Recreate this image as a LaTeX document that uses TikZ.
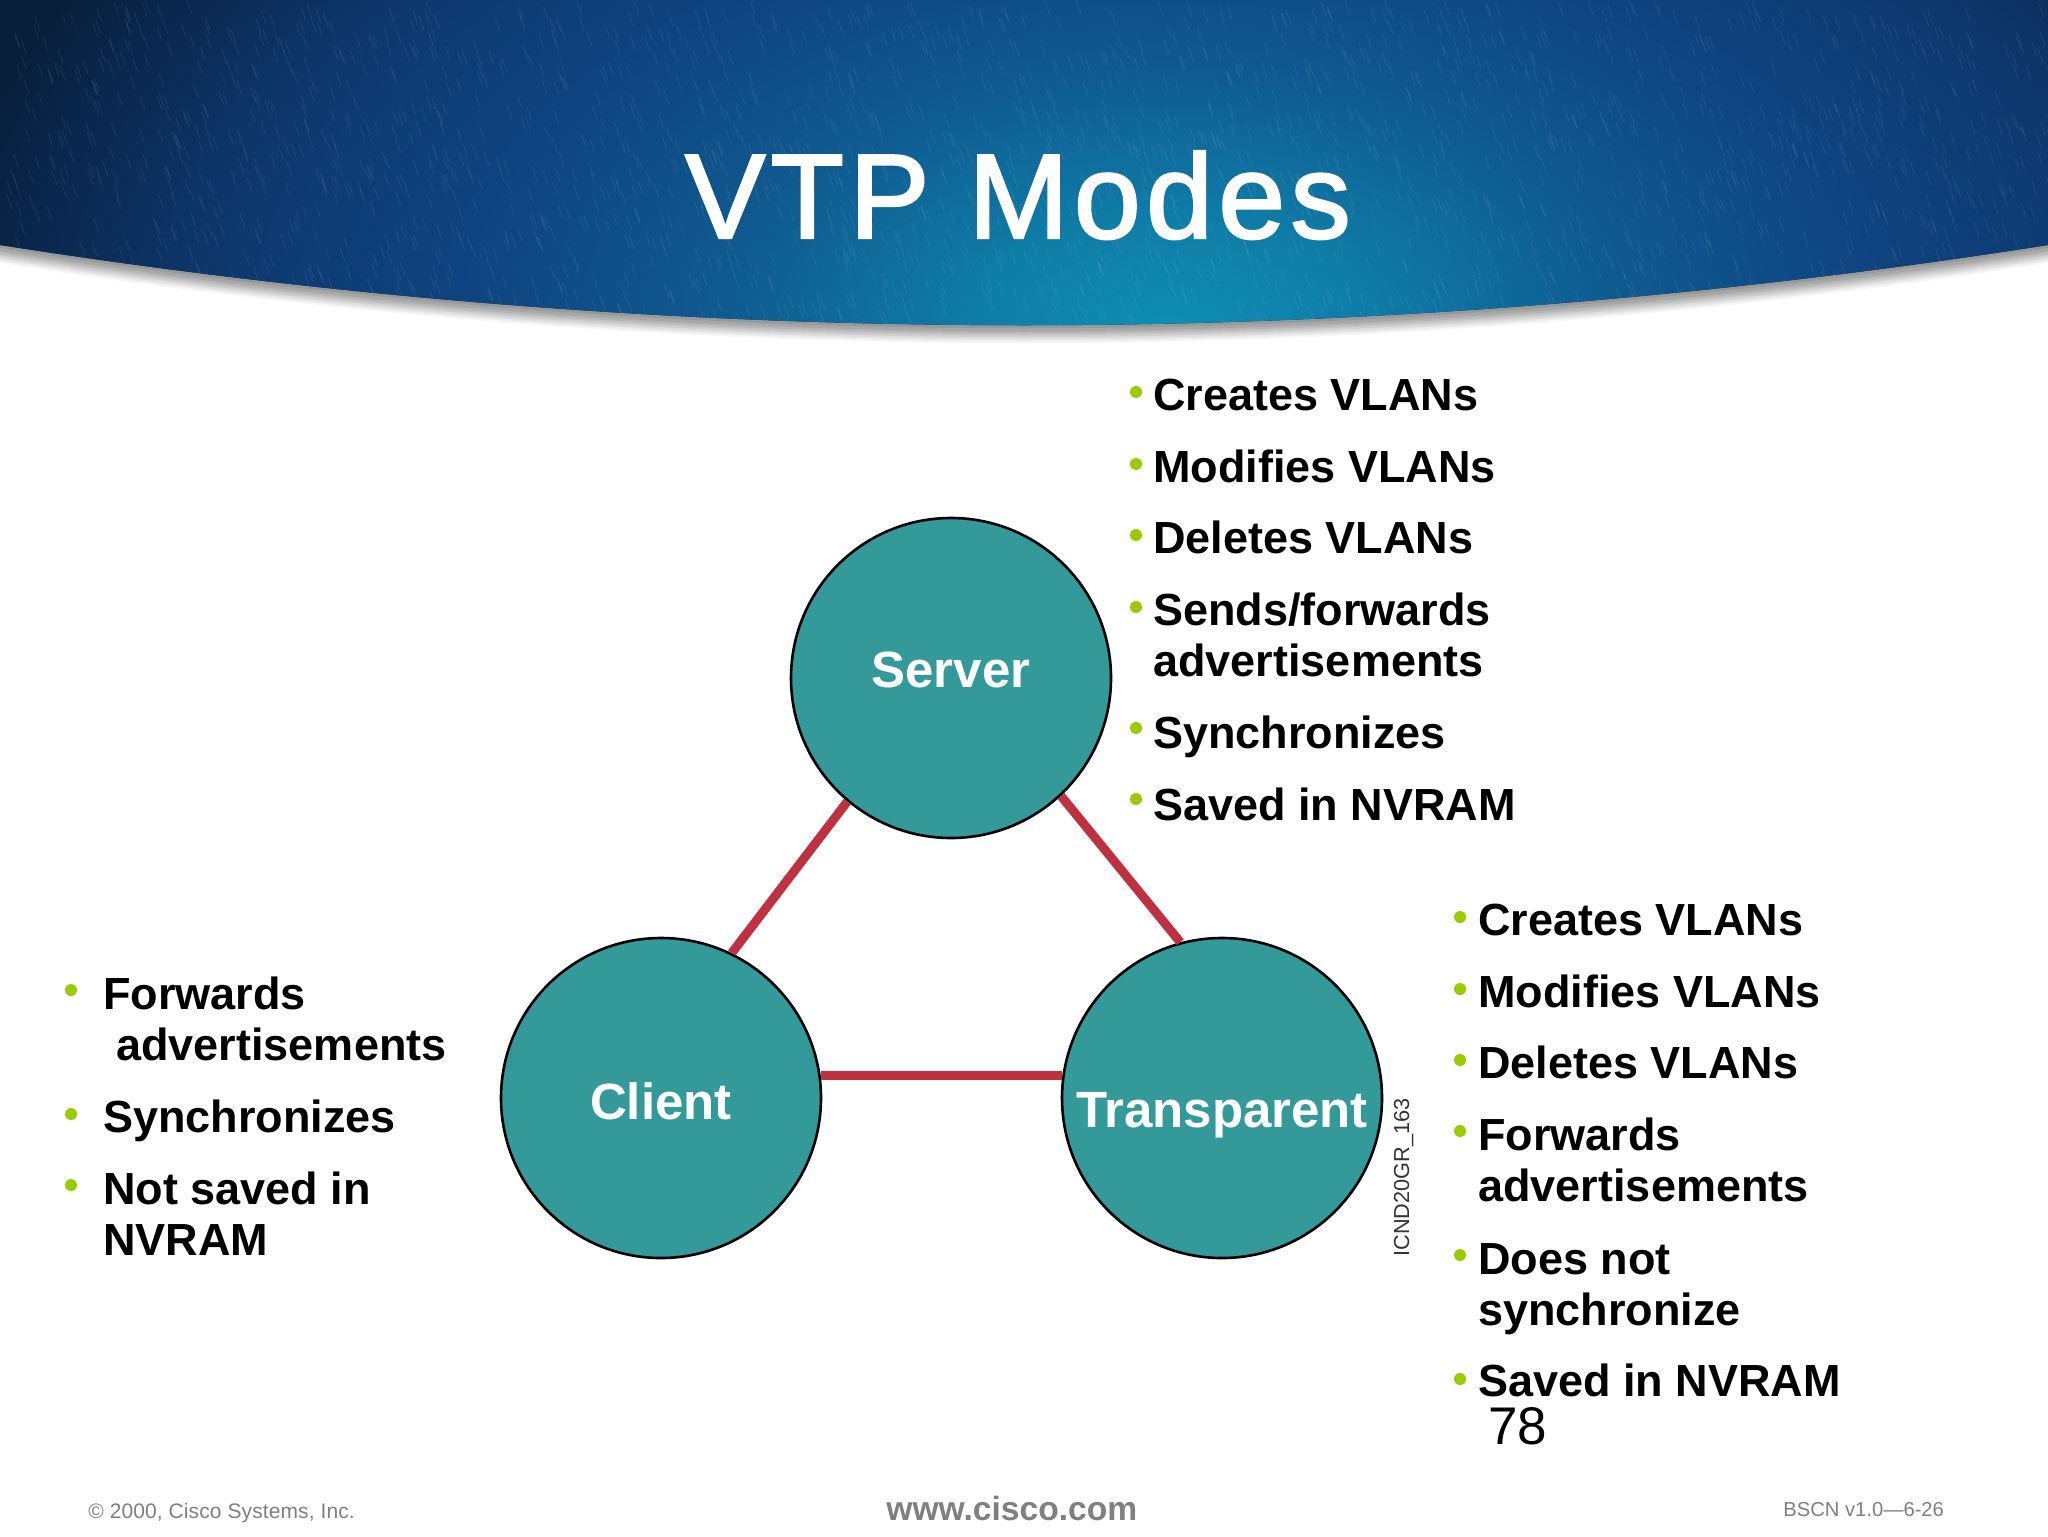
\documentclass[tikz,border=0pt]{standalone}
\usepackage{fontspec}
\setmainfont{Liberation Sans}
\newfontfamily\titlefont[LetterSpace=4.6,FakeBold=2]{Liberation Sans}
\newfontfamily\footfont[LetterSpace=0.5]{Liberation Sans}
\definecolor{modeteal}{HTML}{339999}
\definecolor{linkred}{HTML}{BF3040}
\definecolor{bulletgreen}{HTML}{99CC00}
\definecolor{footgrey}{HTML}{808080}
\definecolor{glowa}{HTML}{0F8EB4}
\definecolor{glowb}{HTML}{0F7CA8}
\definecolor{glowc}{HTML}{0F5A90}
\definecolor{glowd}{HTML}{0F4480}
\definecolor{glowe}{HTML}{0E386E}
\definecolor{glowf}{HTML}{0A264C}
\definecolor{glowg}{HTML}{081E3A}
\pgfdeclareradialshading{bannerglow}{\pgfpointorigin}{%
  color(0bp)=(glowa);
  color(4bp)=(glowb);
  color(9bp)=(glowc);
  color(14bp)=(glowd);
  color(19bp)=(glowe);
  color(23bp)=(glowf);
  color(25bp)=(glowg);
  color(50bp)=(glowg)}
\tikzset{
  mode/.style={circle,draw=black,line width=1.3pt,fill=modeteal,minimum size=160pt,inner sep=0pt,
    text=white,font=\fontsize{25.5}{28}\selectfont\bfseries},
  link/.style={draw=linkred,line width=4.5pt},
  item/.style={anchor=base west,inner sep=0pt,align=left,
    font=\fontsize{22.5}{25.5}\selectfont\bfseries},
  dot/.style={circle,fill=bulletgreen,minimum size=6pt,inner sep=0pt},
  foot/.style={anchor=base west,inner sep=0pt,text=footgrey},
}
\begin{document}
\begin{tikzpicture}[x=0.5pt,y=-0.5pt]
\useasboundingbox (0,0) rectangle (2048,1536);
% page
\fill[white] (0,0) rectangle (2048,1536);
% soft shadow under the banner
\foreach \d/\o in {18/.06,16/.08,14/.10,12/.12,10/.14,8/.16,6/.2,3/.25}{
  \fill[black!55,opacity=\o] (0,245+\d) .. controls (683,352+\d) and (1365,352+\d) .. (2048,245+\d) -- (2048,200) -- (0,200) -- cycle;
}
% banner
\begin{scope}
  \clip (0,0) -- (2048,0) -- (2048,245) .. controls (1365,352) and (683,352) .. (0,245) -- cycle;
  \fill[glowg] (0,0) rectangle (2048,420);
  \shade[shading=bannerglow] (1170,330) ellipse (1250 and 720);
  \pgfmathsetseed{7}
  \foreach \i in {1,...,2200}{
    \pgfmathsetmacro{\px}{random(0,2048)}
    \pgfmathsetmacro{\py}{random(0,330)}
    \draw[white,opacity=.07,line width=.5pt] (\px,\py) -- ++(5,14);
  }
\end{scope}
\node[anchor=base,inner sep=0pt,text=white,font=\fontsize{60}{66}\selectfont\titlefont] (title) at (1018,238) {VTP Modes};
% modes
\node[mode] (server) at (951,678) {\raisebox{-4.5pt}[0pt][0pt]{Server}};
\node[mode] (client) at (661,1098) {\raisebox{-10.5pt}[0pt][0pt]{Client}};
\node[mode] (transparent) at (1222,1098) {\raisebox{-14.5pt}[0pt][0pt]{Transparent}};
\draw[link] (server.230) -- (client.64);
\draw[link] (server.313) -- (transparent.105);
\draw[link] (client.8) -- (transparent.172);
% server list
\node[item] (s1) at (1153,410) {Creates VLANs};
\node[item] (s2) at (1153,482) {Modifies VLANs};
\node[item] (s3) at (1153,553) {Deletes VLANs};
\node[item] (s4) at (1153,676) {Sends/forwards\\advertisements};
\node[item] (s5) at (1153,748) {Synchronizes};
\node[item] (s6) at (1153,820) {Saved in NVRAM};
\foreach \n/\y in {a/392,b/464,c/535,d/607,e/728,f/799}{\node[dot] (sd\n) at (1136,\y) {};}
% transparent list
\node[item] (t1) at (1478,935) {Creates VLANs};
\node[item] (t2) at (1478,1007) {Modifies VLANs};
\node[item] (t3) at (1478,1078) {Deletes VLANs};
\node[item] (t4) at (1478,1201) {Forwards\\advertisements};
\node[item] (t5) at (1478,1325) {Does not\\synchronize};
\node[item] (t6) at (1478,1396) {Saved in NVRAM};
\foreach \n/\y in {a/917,b/989,c/1060,d/1131,e/1255,f/1379}{\node[dot] (td\n) at (1460,\y) {};}
% client list
\node[item] (c1) at (103,1060) {Forwards\\\hspace{6.5pt}advertisements};
\node[item] (c2) at (103,1132) {Synchronizes};
\node[item] (c3) at (103,1255) {Not saved in\\NVRAM};
\foreach \n/\y in {a/990,b/1114,c/1185}{\node[dot] (cd\n) at (71,\y) {};}
% small labels
\node[anchor=base west,inner sep=0pt,rotate=90,font=\fontsize{10.85}{12}\selectfont,text=black!80] (code) at (1409,1257) {ICND20GR\_163};
\node[anchor=base west,inner sep=0pt,font=\fontsize{26.5}{30}\selectfont] (page) at (1488,1444) {78};
% footer
\node[foot,font=\fontsize{10.5}{12}\selectfont\footfont] (copy) at (88,1518) {© 2000, Cisco Systems, Inc.};
\node[foot,font=\fontsize{16.8}{18}\selectfont\bfseries] (web) at (886,1520) {www.cisco.com};
\node[foot,font=\fontsize{10.1}{12}\selectfont] (ver) at (1783,1516) {BSCN v1.0—6-26};
\end{tikzpicture}
\end{document}
